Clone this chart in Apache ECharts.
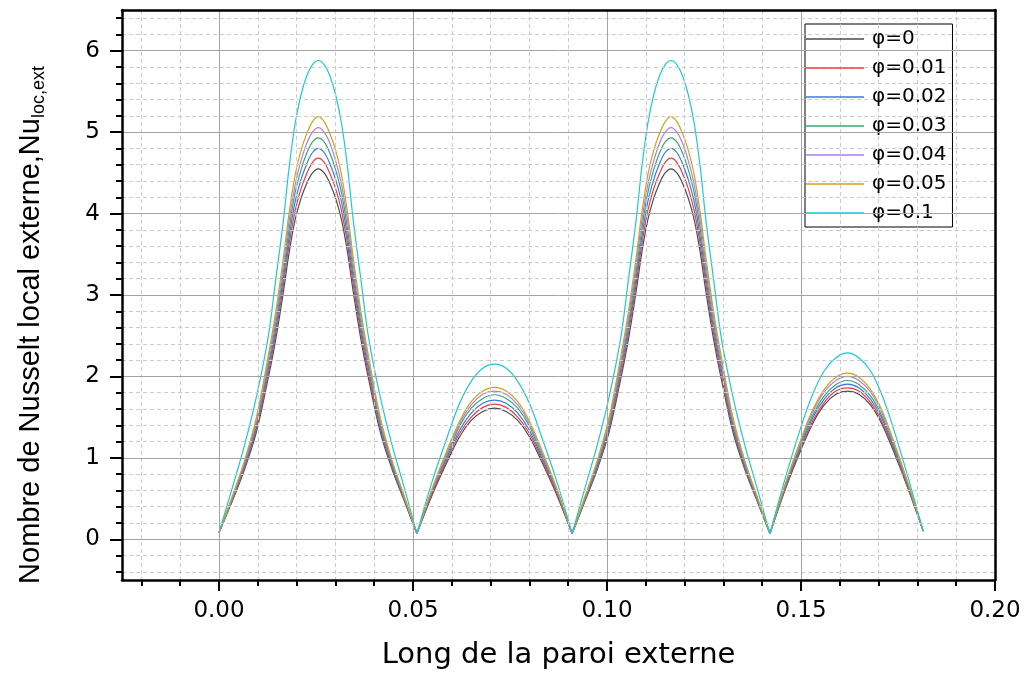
<!DOCTYPE html>
<html><head><meta charset="utf-8">
<script src="https://cdn.jsdelivr.net/npm/echarts@6/dist/echarts.min.js"></script>
<style>html,body{margin:0;padding:0;background:#fff}#c{width:1028px;height:673px}</style>
</head><body><div id="c"></div>
<script>
const xValues = [
  0, 0.0036, 0.0066, 0.0096, 0.0126, 0.0146, 0.0166, 0.0181, 0.0196, 0.0211, 0.0226, 0.0241, 0.0256,
  0.0271, 0.0286, 0.0301, 0.0316, 0.0331, 0.0346, 0.0366, 0.0386, 0.0416, 0.0446, 0.0476, 0.051,
  0.055, 0.059, 0.062, 0.065, 0.068, 0.071, 0.074, 0.077, 0.080, 0.083, 0.087, 0.091,
  0.0945, 0.0975, 0.1005, 0.1035, 0.1055, 0.1075, 0.109, 0.1105, 0.112, 0.1135, 0.115, 0.1165,
  0.118, 0.1195, 0.121, 0.1225, 0.124, 0.1255, 0.1275, 0.1295, 0.1325, 0.1355, 0.1385, 0.142,
  0.146, 0.150, 0.153, 0.156, 0.159, 0.162, 0.1649, 0.1679, 0.1708, 0.1737, 0.1776, 0.1815
];
const phi0 = [
  0.08, 0.49, 0.86, 1.31, 1.96, 2.45, 3.04, 3.53, 3.92, 4.18, 4.37, 4.50, 4.55,
  4.50, 4.37, 4.18, 3.92, 3.53, 3.04, 2.45, 1.96, 1.31, 0.86, 0.49, 0.07,
  0.55, 0.97, 1.26, 1.46, 1.57, 1.61, 1.57, 1.46, 1.26, 0.97, 0.55, 0.07,
  0.49, 0.86, 1.31, 1.96, 2.45, 3.04, 3.53, 3.92, 4.18, 4.37, 4.50, 4.55,
  4.50, 4.37, 4.18, 3.92, 3.53, 3.04, 2.45, 1.96, 1.31, 0.86, 0.49, 0.07,
  0.62, 1.10, 1.42, 1.65, 1.78, 1.82, 1.78, 1.65, 1.42, 1.10, 0.62, 0.10
];
const phi001 = [
  0.08, 0.50, 0.88, 1.35, 2.01, 2.52, 3.13, 3.63, 4.03, 4.30, 4.49, 4.63, 4.68,
  4.63, 4.49, 4.30, 4.03, 3.63, 3.13, 2.52, 2.01, 1.35, 0.88, 0.50, 0.07,
  0.57, 1.00, 1.30, 1.50, 1.62, 1.66, 1.62, 1.50, 1.30, 1.00, 0.57, 0.07,
  0.50, 0.88, 1.35, 2.01, 2.52, 3.13, 3.63, 4.03, 4.30, 4.49, 4.63, 4.68,
  4.63, 4.49, 4.30, 4.03, 3.63, 3.13, 2.52, 2.01, 1.35, 0.88, 0.50, 0.07,
  0.63, 1.13, 1.45, 1.68, 1.82, 1.86, 1.82, 1.68, 1.45, 1.13, 0.63, 0.10
];
const phi002 = [
  0.08, 0.51, 0.90, 1.38, 2.07, 2.58, 3.21, 3.72, 4.14, 4.41, 4.61, 4.75, 4.80,
  4.75, 4.61, 4.41, 4.14, 3.72, 3.21, 2.58, 2.07, 1.38, 0.90, 0.51, 0.07,
  0.59, 1.03, 1.34, 1.55, 1.67, 1.71, 1.67, 1.55, 1.34, 1.03, 0.59, 0.07,
  0.51, 0.90, 1.38, 2.07, 2.58, 3.21, 3.72, 4.14, 4.41, 4.61, 4.75, 4.80,
  4.75, 4.61, 4.41, 4.14, 3.72, 3.21, 2.58, 2.07, 1.38, 0.90, 0.51, 0.07,
  0.65, 1.15, 1.49, 1.72, 1.86, 1.905, 1.86, 1.72, 1.49, 1.15, 0.65, 0.10
];
const phi003 = [
  0.08, 0.52, 0.93, 1.41, 2.12, 2.65, 3.29, 3.82, 4.25, 4.53, 4.74, 4.88, 4.93,
  4.88, 4.74, 4.53, 4.25, 3.82, 3.29, 2.65, 2.12, 1.41, 0.93, 0.52, 0.07,
  0.61, 1.06, 1.39, 1.61, 1.73, 1.775, 1.73, 1.61, 1.39, 1.06, 0.61, 0.07,
  0.52, 0.93, 1.41, 2.12, 2.65, 3.29, 3.82, 4.25, 4.53, 4.74, 4.88, 4.93,
  4.88, 4.74, 4.53, 4.25, 3.82, 3.29, 2.65, 2.12, 1.41, 0.93, 0.52, 0.07,
  0.66, 1.18, 1.52, 1.76, 1.90, 1.95, 1.90, 1.76, 1.52, 1.18, 0.66, 0.10
];
const phi004 = [
  0.08, 0.54, 0.95, 1.45, 2.17, 2.72, 3.37, 3.92, 4.35, 4.64, 4.86, 5.00, 5.055,
  5.00, 4.86, 4.64, 4.35, 3.92, 3.37, 2.72, 2.17, 1.45, 0.95, 0.54, 0.07,
  0.62, 1.09, 1.42, 1.65, 1.78, 1.82, 1.78, 1.65, 1.42, 1.09, 0.62, 0.07,
  0.54, 0.95, 1.45, 2.17, 2.72, 3.37, 3.92, 4.35, 4.64, 4.86, 5.00, 5.055,
  5.00, 4.86, 4.64, 4.35, 3.92, 3.37, 2.72, 2.17, 1.45, 0.95, 0.54, 0.07,
  0.68, 1.21, 1.56, 1.81, 1.95, 2.00, 1.95, 1.81, 1.56, 1.21, 0.68, 0.10
];
const phi005 = [
  0.08, 0.55, 0.97, 1.49, 2.23, 2.79, 3.46, 4.02, 4.47, 4.77, 4.98, 5.13, 5.19,
  5.13, 4.98, 4.77, 4.47, 4.02, 3.46, 2.79, 2.23, 1.49, 0.97, 0.55, 0.07,
  0.63, 1.12, 1.45, 1.69, 1.82, 1.865, 1.82, 1.69, 1.45, 1.12, 0.63, 0.07,
  0.55, 0.97, 1.49, 2.23, 2.79, 3.46, 4.02, 4.47, 4.77, 4.98, 5.13, 5.19,
  5.13, 4.98, 4.77, 4.47, 4.02, 3.46, 2.79, 2.23, 1.49, 0.97, 0.55, 0.07,
  0.69, 1.23, 1.59, 1.84, 1.99, 2.04, 1.99, 1.84, 1.59, 1.23, 0.69, 0.10
];
const phi01 = [
  0.08, 0.66, 1.16, 1.74, 2.46, 3.18, 3.92, 4.58, 5.10, 5.45, 5.69, 5.83, 5.88,
  5.83, 5.69, 5.45, 5.10, 4.58, 3.92, 3.18, 2.46, 1.74, 1.16, 0.66, 0.07,
  0.72, 1.28, 1.67, 1.94, 2.10, 2.15, 2.10, 1.94, 1.67, 1.28, 0.72, 0.07,
  0.66, 1.16, 1.74, 2.46, 3.18, 3.92, 4.58, 5.10, 5.45, 5.69, 5.83, 5.88,
  5.83, 5.69, 5.45, 5.10, 4.58, 3.92, 3.18, 2.46, 1.74, 1.16, 0.66, 0.07,
  0.76, 1.38, 1.78, 2.07, 2.23, 2.29, 2.23, 2.07, 1.78, 1.38, 0.76, 0.10
];
const seriesNames = ['φ=0', 'φ=0.01', 'φ=0.02', 'φ=0.03', 'φ=0.04', 'φ=0.05', 'φ=0.1'];
const seriesValues = [phi0, phi001, phi002, phi003, phi004, phi005, phi01];
const seriesColors = ['#4d4d4d', '#f03c3c', '#3a78e6', '#3aa96c', '#b07ee6', '#d4a017', '#1ec8d2'];
// indices in xValues where the wall profile has its sharp minima (arch boundaries)
const archBreaks = [0, 24, 36, 60, 72];
const xMajorTicks = [0, 0.05, 0.1, 0.15, 0.2];
const xMinorTicks = [-0.02, -0.01, 0.01, 0.02, 0.03, 0.04, 0.06, 0.07, 0.08, 0.09, 0.11, 0.12, 0.13, 0.14, 0.16, 0.17, 0.18, 0.19];
const yMajorTicks = [0, 1, 2, 3, 4, 5, 6];
const yMinorTicks = [-0.4, -0.2, 0.2, 0.4, 0.6, 0.8, 1.2, 1.4, 1.6, 1.8, 2.2, 2.4, 2.6, 2.8, 3.2, 3.4, 3.6, 3.8, 4.2, 4.4, 4.6, 4.8, 5.2, 5.4, 5.6, 5.8, 6.2, 6.4];
const xTitle = 'Long de la paroi externe';
const yTitle = 'Nombre de Nusselt local externe,Nu{sub|loc,ext}';

const FONT = 'DejaVu Sans';
const X_MIN = -0.025, X_MAX = 0.2, Y_MIN = -0.5, Y_MAX = 6.5;
const black = '#000';

const chart = echarts.init(document.getElementById('c'), null, {renderer: 'canvas'});
const hidden = {show: false};

const series = [];
seriesNames.forEach((name, k) => {
  for (let a = 0; a < archBreaks.length - 1; a++) {
    const data = [];
    for (let i = archBreaks[a]; i <= archBreaks[a + 1]; i++) data.push([xValues[i], seriesValues[k][i]]);
    series.push({
      name: name, type: 'line', xAxisIndex: 0, yAxisIndex: 0,
      data: data, symbol: 'none', smooth: 0.35,
      lineStyle: {color: seriesColors[k], width: 1.2},
      itemStyle: {color: seriesColors[k]},
      z: 3
    });
  }
});

const option = {
  animation: false,
  backgroundColor: '#fff',
  grid: {left: 122, right: 33, top: 10, bottom: 93, outerBoundsMode: 'none', containLabel: false},
  legend: {
    orient: 'vertical', left: 805, top: 24,
    icon: 'rect', itemWidth: 58, itemHeight: 1.5, itemGap: 9,
    padding: [5, 6, 4, 1],
    backgroundColor: '#fff', borderColor: black, borderWidth: 1,
    textStyle: {fontFamily: FONT, fontSize: 20, color: black, padding: [0, 0, 0, 3]},
    data: seriesNames
  },
  xAxis: [
    {
      type: 'value', position: 'bottom', min: X_MIN, max: X_MAX,
      name: xTitle, nameLocation: 'middle', nameGap: 61,
      nameTextStyle: {fontFamily: FONT, fontSize: 29, color: black},
      axisLine: {show: true, onZero: false, lineStyle: {color: black, width: 2.5}},
      axisTick: {show: true, customValues: xMajorTicks, length: 11, lineStyle: {color: black, width: 2}},
      axisLabel: {show: true, customValues: xMajorTicks, margin: 20, fontFamily: FONT, fontSize: 23, color: black,
        formatter: v => Number(v).toFixed(2)},
      splitLine: {show: true, lineStyle: {color: '#a3a3a3', width: 1, type: 'solid'}},
      z: 5
    },
    {
      type: 'value', position: 'bottom', min: X_MIN, max: X_MAX,
      axisLine: {show: false, onZero: false},
      axisTick: {show: true, customValues: xMinorTicks, length: 6, lineStyle: {color: black, width: 2}},
      axisLabel: hidden,
      splitLine: {show: true, lineStyle: {color: '#cccccc', width: 1, type: [4, 3]}},
      z: 4
    },
    {
      type: 'value', position: 'top', min: X_MIN, max: X_MAX,
      axisLine: {show: true, onZero: false, lineStyle: {color: black, width: 2.5}},
      axisTick: hidden, axisLabel: hidden, splitLine: hidden, z: 5
    }
  ],
  yAxis: [
    {
      type: 'value', position: 'left', min: Y_MIN, max: Y_MAX,
      name: yTitle, nameLocation: 'middle', nameGap: 74,
      nameTextStyle: {fontFamily: 'Liberation Sans', fontSize: 29, color: black, padding: [0, 60, 0, 0],
        rich: {sub: {fontFamily: 'Liberation Sans', fontSize: 18, color: black, padding: [16, 0, 0, 0]}}},
      axisLine: {show: true, onZero: false, lineStyle: {color: black, width: 2.5}},
      axisTick: {show: true, customValues: yMajorTicks, length: 12, lineStyle: {color: black, width: 2}},
      axisLabel: {show: true, customValues: yMajorTicks, margin: 22, fontFamily: FONT, fontSize: 23, color: black},
      splitLine: {show: true, lineStyle: {color: '#a3a3a3', width: 1, type: 'solid'}},
      z: 5
    },
    {
      type: 'value', position: 'left', min: Y_MIN, max: Y_MAX,
      axisLine: {show: false, onZero: false},
      axisTick: {show: true, customValues: yMinorTicks, length: 6, lineStyle: {color: black, width: 2}},
      axisLabel: hidden,
      splitLine: {show: true, lineStyle: {color: '#cccccc', width: 1, type: [4, 3]}},
      z: 4
    },
    {
      type: 'value', position: 'right', min: Y_MIN, max: Y_MAX,
      axisLine: {show: true, onZero: false, lineStyle: {color: black, width: 2.5}},
      axisTick: hidden, axisLabel: hidden, splitLine: hidden, z: 5
    }
  ],
  series: series
};
chart.setOption(option);
</script>
</body></html>
